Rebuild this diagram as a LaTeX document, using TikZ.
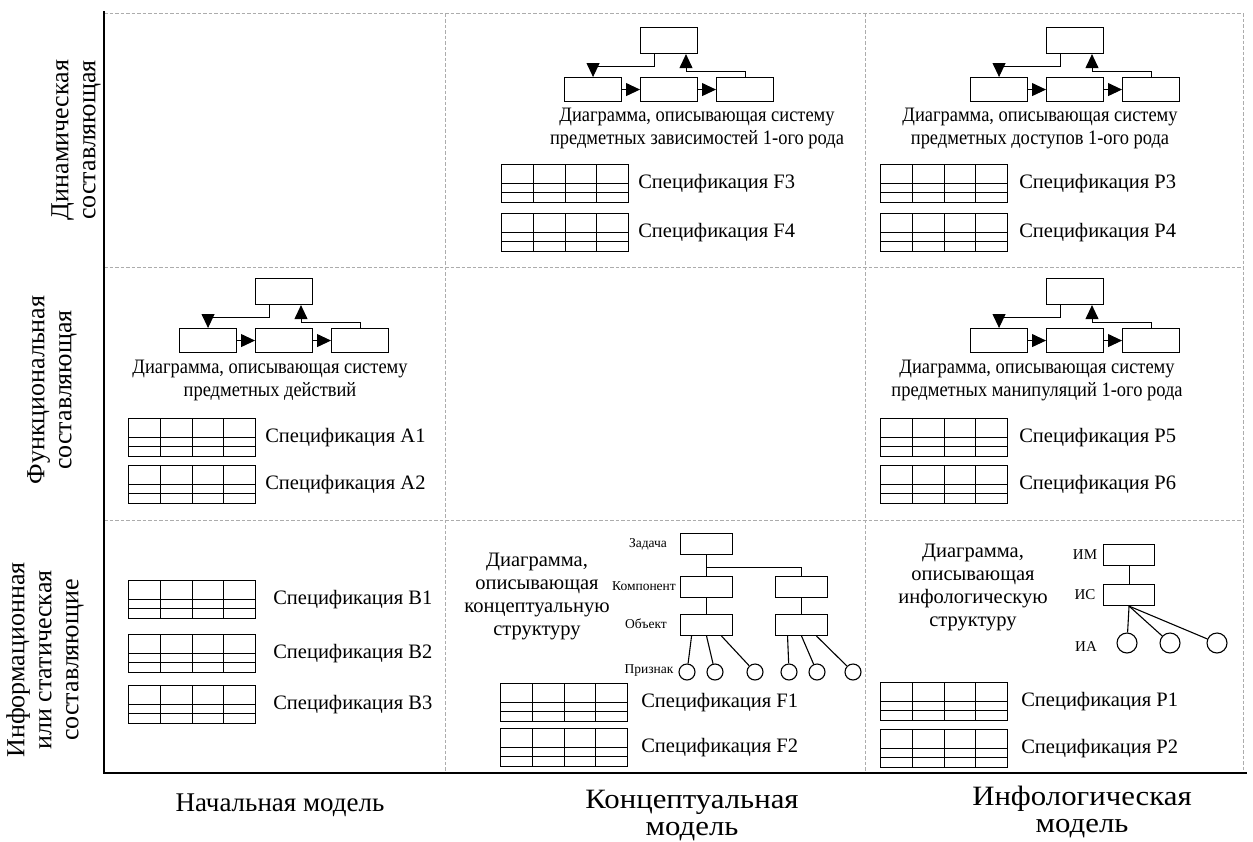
\documentclass[tikz,border=0pt]{standalone}
\usepackage{fontspec}
\setmainfont{Liberation Serif}
\newfontfamily\narrowserif[FakeStretch=0.9]{Liberation Serif}
\newfontfamily\wideserif[FakeStretch=1.1]{Liberation Serif}
\usetikzlibrary{arrows.meta,calc,positioning}
\begin{document}
\begin{tikzpicture}[x=1pt,y=-1pt,
  gridline/.style={gray!65, line width=1pt, dash pattern=on 3.5pt off 2pt},
  axisline/.style={black, line width=2pt},
  fbox/.style={draw, line width=1.1pt, minimum width=57pt, minimum height=24pt, inner sep=0pt, anchor=north west},
  farrow/.style={line width=1pt, -{Triangle[length=14pt,width=13pt]}},
  spectable/.style={draw, line width=1.1pt, minimum width=127pt, minimum height=38pt,
    inner sep=0pt, anchor=north west,
    path picture={
      \coordinate (spNW) at (path picture bounding box.north west);
      \coordinate (spSE) at (path picture bounding box.south east);
      \foreach \f in {0.25,0.5,0.75}
        \draw[line width=1.1pt] ($(spNW)!\f!(spNW-|spSE)$) -- ($(spNW|-spSE)!\f!(spSE)$);
      \foreach \f in {0.5,0.74}
        \draw[line width=1.1pt] ($(spNW)!\f!(spNW|-spSE)$) -- ($(spNW-|spSE)!\f!(spSE)$);
    }},
  speclabel/.style={anchor=west, inner sep=0pt, font=\fontsize{20.5}{23}\selectfont},
  desc/.style={align=center, inner sep=0pt, font=\fontsize{20.5}{23}\selectfont},
  flowdesc/.style={align=center, inner sep=0pt, font=\narrowserif\fontsize{20.5}{23}\selectfont},
  axislabel/.style={align=center, inner sep=0pt, font=\fontsize{27}{27}\selectfont},
  wideaxislabel/.style={align=center, inner sep=0pt, font=\wideserif\fontsize{28}{27}\selectfont},
  rowlabel/.style={align=center, inner sep=0pt, rotate=90, font=\fontsize{26}{27}\selectfont},
  tinylabel/.style={inner sep=0pt, font=\fontsize{13.5}{15}\selectfont},
  smalllabel/.style={inner sep=0pt, font=\fontsize{15}{17}\selectfont},
  tbox/.style={draw, line width=1.1pt, minimum width=52pt, minimum height=21pt, inner sep=0pt, anchor=north west},
  leaf/.style={draw, circle, line width=1.1pt, inner sep=0pt},
  treeline/.style={line width=1.1pt},
  flowdiag/.pic={
    \node[fbox] (-b1) at (0,0) {};
    \node[fbox] (-b2) at (76,0) {};
    \node[fbox] (-b3) at (152,0) {};
    \node[fbox, minimum height=26pt] (-top) at (76,-50) {};
    \draw[farrow] ([xshift=14pt]-top.south west) -- ++(0,12) -| (-b1.north);
    \draw[farrow] (-b3.north) -- ++(0,-6) -| ([xshift=46pt]-top.south west);
    \draw[farrow] (-b1.east) -- (-b2.west);
    \draw[farrow] (-b2.east) -- (-b3.west);
  }
]
\fill[white] (0,0) rectangle (1253,841);
\useasboundingbox (0,0) rectangle (1253,841);

% dashed grid of the matrix
\draw[gridline] (104,13.5) -- (1243,13.5) -- (1243,773);
\draw[gridline] (104,267) -- (1243,267);
\draw[gridline] (104,520) -- (1243,520);
\draw[gridline] (445,13.5) -- (445,773);
\draw[gridline] (865,13.5) -- (865,773);

% axes
\draw[axisline] (104,11) -- (104,773) -- (1247,773);

% row labels
\node[rowlabel] (rowdyn) at (76,140) {Динамическая\\составляющая};
\node[rowlabel] (rowfun) at (52,390) {Функциональная\\составляющая};
\node[rowlabel] (rowinf) at (45,660) {Информационная\\или статическая\\составляющие};

% column labels
\node[axislabel] (colini) at (280,805) {Начальная модель};
\node[wideaxislabel] (colcon) at (692,816) {Концептуальная\\модель};
\node[wideaxislabel] (colinf) at (1082,812) {Инфологическая\\модель};

% ---- dynamic row ----
\pic (fdep) at (564,77) {flowdiag};
\node[flowdesc] (tdep) at (697,128) {Диаграмма, описывающая систему\\предметных зависимостей 1-ого рода};
\node[spectable] (tF3) at (501,164) {};
\node[speclabel, right=9pt of tF3] (lF3) {Спецификация F3};
\node[spectable] (tF4) at (501,213) {};
\node[speclabel, right=9pt of tF4] (lF4) {Спецификация F4};

\pic (facc) at (970,77) {flowdiag};
\node[flowdesc] (tacc) at (1040,128) {Диаграмма, описывающая систему\\предметных доступов 1-ого рода};
\node[spectable] (tP3) at (880,164) {};
\node[speclabel, right=11pt of tP3] (lP3) {Спецификация P3};
\node[spectable] (tP4) at (880,213) {};
\node[speclabel, right=11pt of tP4] (lP4) {Спецификация P4};

% ---- functional row ----
\pic (fact) at (179,328) {flowdiag};
\node[flowdesc] (tact) at (270,380) {Диаграмма, описывающая систему\\предметных действий};
\node[spectable] (tA1) at (128,418) {};
\node[speclabel, right=9pt of tA1] (lA1) {Спецификация A1};
\node[spectable] (tA2) at (128,465) {};
\node[speclabel, right=9pt of tA2] (lA2) {Спецификация A2};

\pic (fman) at (970,328) {flowdiag};
\node[flowdesc] (tman) at (1037,380) {Диаграмма, описывающая систему\\предметных манипуляций 1-ого рода};
\node[spectable] (tP5) at (880,418) {};
\node[speclabel, right=11pt of tP5] (lP5) {Спецификация P5};
\node[spectable] (tP6) at (880,465) {};
\node[speclabel, right=11pt of tP6] (lP6) {Спецификация P6};

% ---- information row ----
\node[spectable] (tB1) at (128,580) {};
\node[speclabel, right=17pt of tB1] (lB1) {Спецификация B1};
\node[spectable] (tB2) at (128,634) {};
\node[speclabel, right=17pt of tB2] (lB2) {Спецификация B2};
\node[spectable] (tB3) at (128,685) {};
\node[speclabel, right=17pt of tB3] (lB3) {Спецификация B3};

% conceptual structure tree
\node[desc] (tcon) at (537,596) {Диаграмма,\\описывающая\\концептуальную\\структуру};
\node[tbox] (zad) at (680,533) {};
\node[tbox] (kom1) at (680,576) {};
\node[tbox] (kom2) at (775,576) {};
\node[tbox] (obj1) at (680,614) {};
\node[tbox] (obj2) at (775,614) {};
\node[tinylabel] (lzad) at (648,544) {Задача};
\node[tinylabel] (lkom) at (644,586) {Компонент};
\node[tinylabel] (lobj) at (646,624) {Объект};
\node[tinylabel] (lpri) at (649,671) {Признак};
\foreach \n/\x in {1/687,2/715,3/755,4/789,5/817,6/853}
  \node[leaf, minimum size=16pt] (pr\n) at (\x,672) {};
\coordinate (zadfork) at ($(zad.south)+(0,12)$);
\draw[treeline] (zad.south) -- (kom1.north);
\draw[treeline] (zadfork) -| (kom2.north);
\draw[treeline] (kom1.south) -- (obj1.north);
\draw[treeline] (kom2.south) -- (obj2.north);
\draw[treeline] ([xshift=-15pt]obj1.south) -- (pr1);
\draw[treeline] (obj1.south) -- (pr2);
\draw[treeline] ([xshift=15pt]obj1.south) -- (pr3);
\draw[treeline] ([xshift=-14pt]obj2.south) -- (pr4);
\draw[treeline] (obj2.south) -- (pr5);
\draw[treeline] ([xshift=15pt]obj2.south) -- (pr6);
\node[spectable] (tF1) at (500,683) {};
\node[speclabel, right=13pt of tF1] (lF1) {Спецификация F1};
\node[spectable] (tF2) at (500,728) {};
\node[speclabel, right=13pt of tF2] (lF2) {Спецификация F2};

% infological structure tree
\node[desc] (tinf) at (973,587) {Диаграмма,\\описывающая\\инфологическую\\структуру};
\node[tbox, minimum width=51pt] (im) at (1103,544) {};
\node[tbox, minimum width=51pt] (is) at (1103,584) {};
\node[smalllabel] (lim) at (1085,555) {ИМ};
\node[smalllabel] (lis) at (1085,595) {ИС};
\node[smalllabel] (lia) at (1086,647) {ИА};
\foreach \n/\x in {1/1127,2/1170,3/1217}
  \node[leaf, minimum size=20pt] (ia\n) at (\x,643) {};
\draw[treeline] (im.south) -- (is.north);
\foreach \n in {1,2,3}
  \draw[treeline] (is.south) -- (ia\n);
\node[spectable] (tP1) at (880,682) {};
\node[speclabel, right=13pt of tP1] (lP1) {Спецификация P1};
\node[spectable] (tP2) at (880,729) {};
\node[speclabel, right=13pt of tP2] (lP2) {Спецификация P2};
\end{tikzpicture}
\end{document}
